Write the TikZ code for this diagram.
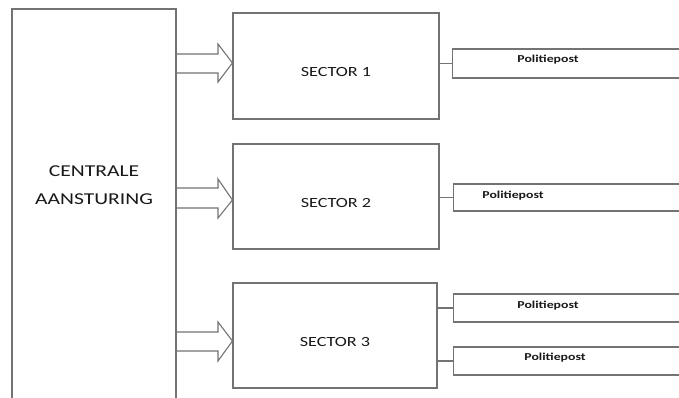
\documentclass[tikz,border=0pt]{standalone}
\usepackage{fontspec}
\setmainfont{Carlito}
\newfontfamily\stretchfont[FakeStretch=1.3]{Carlito}
\definecolor{linegray}{RGB}{115,115,115}
\definecolor{txt}{RGB}{25,25,25}
\tikzset{
  boxline/.style={draw=linegray, line width=1.1pt},
  sectorbox/.style={boxline, rectangle, minimum width=206pt, minimum height=106pt, inner sep=0pt},
  ppbox/.style={boxline, rectangle, anchor=west, minimum width=240pt, inner sep=0pt},
  bigtext/.style={text=txt, font=\stretchfont\fontsize{16.6}{28}\selectfont, align=center},
  sectortext/.style={text=txt, font=\stretchfont\fontsize{14}{16}\selectfont},
  pptext/.style={text=txt, font=\stretchfont\bfseries\fontsize{10.6}{12}\selectfont},
  barrow/.style={boxline, fill=white, line join=miter}
}
\begin{document}
\begin{tikzpicture}[x=1pt,y=-1pt]
\clip (0,0) rectangle (679,398);
\fill[white] (0,0) rectangle (679,398);
% sectors
\node[sectorbox] (s1) at (336,66) {};
\node[sectortext] at (336,72) {SECTOR 1};
\node[sectorbox, minimum height=105pt] (s2) at (336,196.5) {};
\node[sectortext] at (336,203) {SECTOR 2};
\node[sectorbox, minimum width=204pt, minimum height=105pt] (s3) at (335,335.5) {};
\node[sectortext] at (335,342) {SECTOR 3};
% block arrows
\draw[barrow] (176,54) -- (218,54) -- (218,44) -- (s1.west |- 0,63) -- (218,82) -- (218,73) -- (176,73);
\draw[barrow] (176,188) -- (218,188) -- (218,179) -- (s2.west |- 0,200) -- (218,218) -- (218,208) -- (176,208);
\draw[barrow] (176,332) -- (218,332) -- (218,322) -- (s3.west |- 0,341) -- (218,361) -- (218,351) -- (176,351);
% central box (open at the bottom)
\draw[boxline] (12,405) -- (12,9) -- (176,9) -- (176,405);
\node[bigtext] (central) at (94,185) {CENTRALE\\AANSTURING};
% politiepost boxes
\node[ppbox, minimum height=29pt] (p1) at (452,63.5) {};
\node[pptext] at (548,60) {Politiepost};
\node[ppbox, minimum height=27pt] (p2) at (453,197.5) {};
\node[pptext] at (513,196) {Politiepost};
\node[ppbox, minimum height=28pt] (p3) at (453,308) {};
\node[pptext] at (548,306) {Politiepost};
\node[ppbox, minimum height=28pt] (p4) at (453,361) {};
\node[pptext] at (555,358) {Politiepost};
% connectors
\draw[boxline] (s1.east |- p1.west) -- (p1.west);
\draw[boxline] (s2.east |- p2.west) -- (p2.west);
\draw[boxline] (s3.east |- p3.west) -- (p3.west);
\draw[boxline] (s3.east |- p4.west) -- (p4.west);
\end{tikzpicture}
\end{document}
